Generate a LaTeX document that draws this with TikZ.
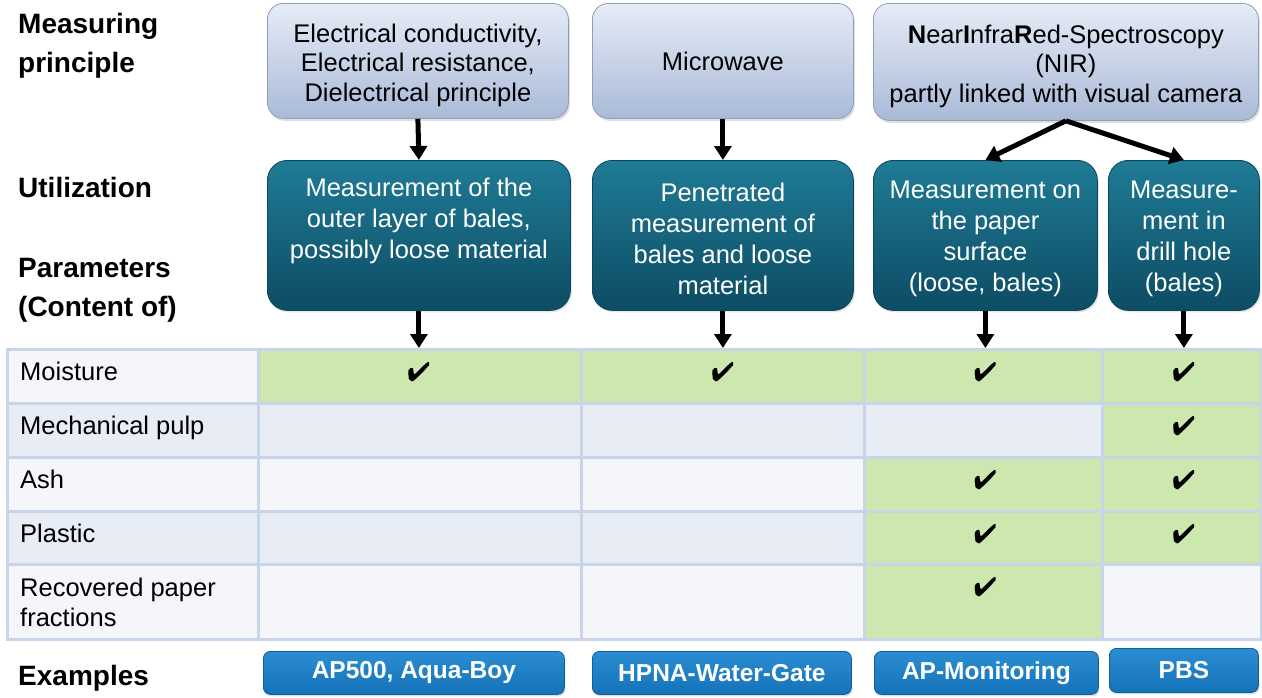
\documentclass[tikz,border=0pt]{standalone}
\usepackage{fontspec}
\setmainfont{Liberation Sans}
\usepackage{pifont}
\usetikzlibrary{arrows.meta,shadows,calc}
\definecolor{topA}{HTML}{E6ECF7}
\definecolor{topB}{HTML}{A9BAD7}
\definecolor{topD}{HTML}{8E9EBB}
\definecolor{tealA}{HTML}{1F7B95}
\definecolor{tealB}{HTML}{0D4C64}
\definecolor{tealD}{HTML}{0B465B}
\definecolor{grn}{HTML}{CCE8AE}
\definecolor{rowL}{HTML}{F4F6FA}
\definecolor{rowD}{HTML}{E8ECF5}
\definecolor{gridc}{HTML}{C8D4EA}
\definecolor{btnA}{HTML}{2B8DD2}
\definecolor{btnB}{HTML}{1472B8}
\definecolor{btnD}{HTML}{105E9B}
\newcommand\bodyfont{\fontsize{25.5}{29.5}\selectfont}
\newcommand\tealfont{\fontsize{25.5}{31}\selectfont}
\newcommand\headfont{\fontsize{28}{39}\selectfont\bfseries}
\newcommand\btnfont{\fontsize{24.5}{28}\selectfont\bfseries}
\newcommand\cellfont{\fontsize{25.5}{30}\selectfont}
\newcommand\firstup{\rule{0pt}{27pt}}
\newcommand\firsttl{\rule{0pt}{25pt}}
\begin{document}
\begin{tikzpicture}[x=1pt,y=-1pt,
  topbox/.style={draw=topD, line width=0.8pt, rounded corners=16pt, top color=topA, bottom color=topB,
    align=center, font=\bodyfont, inner sep=0pt, anchor=north west,
    drop shadow={opacity=0.25, shadow xshift=1.5pt, shadow yshift=-2.5pt}},
  tealbox/.style={draw=tealD, line width=0.8pt, rounded corners=20pt, top color=tealA, bottom color=tealB,
    align=center, font=\tealfont, text=white, inner sep=0pt, anchor=north west, minimum height=150pt,
    drop shadow={opacity=0.2, shadow xshift=1.5pt, shadow yshift=-2pt}},
  btn/.style={draw=btnD, line width=0.8pt, rounded corners=7pt, top color=btnA, bottom color=btnB,
    font=\btnfont, text=white, inner sep=0pt, anchor=north west,
    drop shadow={opacity=0.25, shadow xshift=1pt, shadow yshift=-2pt}},
  head/.style={font=\headfont, align=left, inner sep=0pt, anchor=north west},
  cell/.style={draw=gridc, line width=2.5pt, inner sep=0pt, anchor=north west},
  lbl/.style={font=\cellfont, align=left, inner sep=0pt, anchor=north west},
  chk/.style={font=\fontsize{27}{27}\selectfont, inner sep=0pt},
  arr/.style={line width=5pt, -{Triangle[width=17pt,length=14pt]}}
]
\useasboundingbox (0,0) rectangle (1262,697);

% left headings
\node[head] (hm) at (18,13) {Measuring\\principle};
\node[head] (hu) at (18,177) {Utilization};
\node[head] (hp) at (18,258) {Parameters\\(Content of)};
\node[head] (he) at (18,665) {Examples};

% measuring principle boxes
\node[topbox, minimum width=301pt, minimum height=115pt] (p1) at (267,3)
  {\firstup Electrical conductivity,\\Electrical resistance,\\Dielectrical principle};
\node[topbox, minimum width=261pt, minimum height=115pt] (p2) at (592,3) {Microwave};
\node[topbox, minimum width=385pt, minimum height=117pt] (p3) at (873,3)
  {\firstup\textbf{N}ear\textbf{I}nfra\textbf{R}ed-Spectroscopy\\(NIR)\\partly linked with visual camera};

% utilization boxes
\node[tealbox, minimum width=303pt] (t1) at (267,160)
  {\firsttl Measurement of the\\outer layer of bales,\\possibly loose material\\\strut};
\node[tealbox, minimum width=261pt] (t2) at (592,160)
  {\firsttl Penetrated\\measurement of\\bales and loose\\material};
\node[tealbox, minimum width=224pt] (t3) at (873,160)
  {\firsttl Measurement on\\the paper\\surface\\(loose, bales)};
\node[tealbox, minimum width=151pt] (t4) at (1108,160)
  {\firsttl Measure-\\ment in\\drill hole\\(bales)};

% table: label column
\node[cell, fill=rowL, minimum width=251pt, minimum height=54pt] (l1) at (6,348) {};
\node[cell, fill=rowD, minimum width=251pt, minimum height=54pt] (l2) at (6,402) {};
\node[cell, fill=rowL, minimum width=251pt, minimum height=54pt] (l3) at (6,456) {};
\node[cell, fill=rowD, minimum width=251pt, minimum height=53pt] (l4) at (6,510) {};
\node[cell, fill=rowL, minimum width=251pt, minimum height=75pt] (l5) at (6,563) {};
% row 1
\node[cell, fill=grn, minimum width=323pt, minimum height=54pt] (c11) at (257,348) {};
\node[cell, fill=grn, minimum width=283pt, minimum height=54pt] (c12) at (580,348) {};
\node[cell, fill=grn, minimum width=238pt, minimum height=54pt] (c13) at (863,348) {};
\node[cell, fill=grn, minimum width=159pt, minimum height=54pt] (c14) at (1101,348) {};
% row 2
\node[cell, fill=rowD, minimum width=323pt, minimum height=54pt] (c21) at (257,402) {};
\node[cell, fill=rowD, minimum width=283pt, minimum height=54pt] (c22) at (580,402) {};
\node[cell, fill=rowD, minimum width=238pt, minimum height=54pt] (c23) at (863,402) {};
\node[cell, fill=grn, minimum width=159pt, minimum height=54pt] (c24) at (1101,402) {};
% row 3
\node[cell, fill=rowL, minimum width=323pt, minimum height=54pt] (c31) at (257,456) {};
\node[cell, fill=rowL, minimum width=283pt, minimum height=54pt] (c32) at (580,456) {};
\node[cell, fill=grn, minimum width=238pt, minimum height=54pt] (c33) at (863,456) {};
\node[cell, fill=grn, minimum width=159pt, minimum height=54pt] (c34) at (1101,456) {};
% row 4
\node[cell, fill=rowD, minimum width=323pt, minimum height=53pt] (c41) at (257,510) {};
\node[cell, fill=rowD, minimum width=283pt, minimum height=53pt] (c42) at (580,510) {};
\node[cell, fill=grn, minimum width=238pt, minimum height=53pt] (c43) at (863,510) {};
\node[cell, fill=grn, minimum width=159pt, minimum height=53pt] (c44) at (1101,510) {};
% row 5
\node[cell, fill=rowL, minimum width=323pt, minimum height=75pt] (c51) at (257,563) {};
\node[cell, fill=rowL, minimum width=283pt, minimum height=75pt] (c52) at (580,563) {};
\node[cell, fill=grn, minimum width=238pt, minimum height=75pt] (c53) at (863,563) {};
\node[cell, fill=rowL, minimum width=159pt, minimum height=75pt] (c54) at (1101,563) {};

% row labels
\node[lbl] (x1) at (20,362) {Moisture};
\node[lbl] (x2) at (20,416) {Mechanical pulp};
\node[lbl] (x3) at (20,470) {Ash};
\node[lbl] (x4) at (20,524) {Plastic};
\node[lbl] (x5) at (20,578) {Recovered paper\\fractions};

% check marks
\node[chk] (k11) at ($(t1.south |- c11.north)+(0,24)$) {\ding{52}};
\node[chk] (k12) at ($(t2.south |- c12.north)+(0,24)$) {\ding{52}};
\node[chk] (k13) at ($(t3.south |- c13.north)+(0,24)$) {\ding{52}};
\node[chk] (k14) at ($(t4.south |- c14.north)+(0,24)$) {\ding{52}};
\node[chk] (k24) at ($(t4.south |- c24.north)+(0,24)$) {\ding{52}};
\node[chk] (k33) at ($(t3.south |- c33.north)+(0,24)$) {\ding{52}};
\node[chk] (k34) at ($(t4.south |- c34.north)+(0,24)$) {\ding{52}};
\node[chk] (k43) at ($(t3.south |- c43.north)+(0,24)$) {\ding{52}};
\node[chk] (k44) at ($(t4.south |- c44.north)+(0,24)$) {\ding{52}};
\node[chk] (k53) at ($(t3.south |- c53.north)+(0,24)$) {\ding{52}};

% arrows
\draw[arr] (p1.south) -- (t1.north);
\draw[arr] (p2.south) -- (t2.north);
\draw[arr] (p3.south) -- (t3.north);
\draw[arr] (p3.south) -- (t4.north);
\draw[arr] (t1.south) -- (t1.south |- c11.north);
\draw[arr] (t2.south) -- (t2.south |- c12.north);
\draw[arr] (t3.south) -- (t3.south |- c13.north);
\draw[arr] (t4.south) -- (t4.south |- c14.north);

% example buttons
\node[btn, minimum width=301pt, minimum height=43pt] (b1) at (263,651) {AP500, Aqua-Boy};
\node[btn, minimum width=259pt, minimum height=43pt] (b2) at (592,651) {HPNA-Water-Gate};
\node[btn, minimum width=224pt, minimum height=43pt] (b3) at (874,651) {AP-Monitoring};
\node[btn, minimum width=149pt, minimum height=44pt] (b4) at (1109,648) {PBS};
\end{tikzpicture}
\end{document}
